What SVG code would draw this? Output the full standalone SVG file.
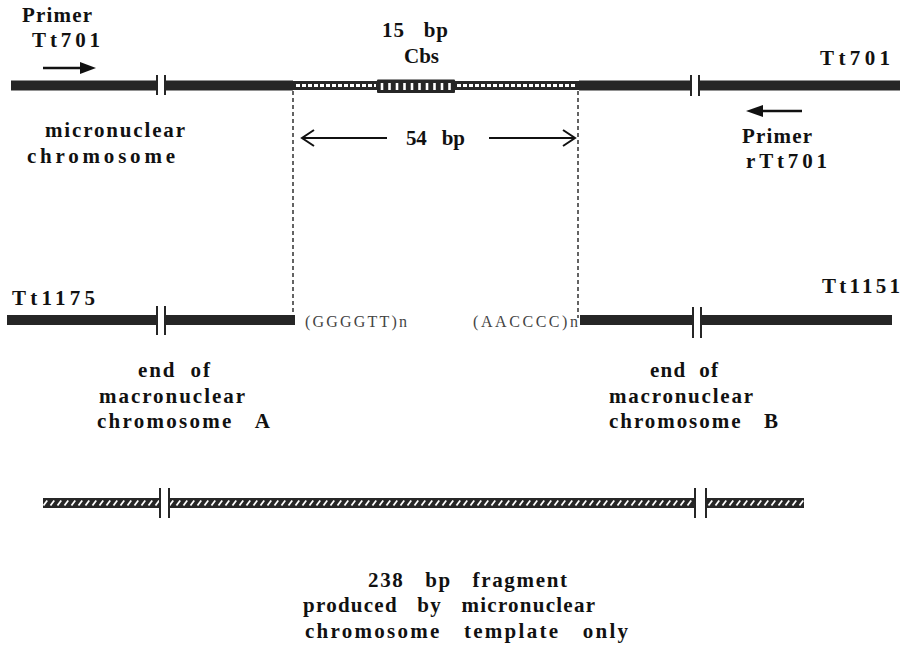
<svg xmlns="http://www.w3.org/2000/svg" width="904" height="648" viewBox="0 0 904 648">
<style>
  .lbl{font-family:"Liberation Serif","Times New Roman",serif;font-weight:bold;font-size:21px;fill:#111;}
  .seq{font-family:"Liberation Serif","Times New Roman",serif;font-size:16px;fill:#444;}
  .bar{fill:#262626;}
  .tick{stroke:#262626;stroke-width:2;}
  .dash{stroke:#222;stroke-width:1.4;stroke-dasharray:4 3;fill:none;}
  .open{stroke:#111;stroke-width:2;fill:none;}
  .prim{stroke:#111;stroke-width:2.5;}
</style>
<defs>
  <pattern id="hatch" patternUnits="userSpaceOnUse" x="0" y="498" width="7" height="10">
    <rect width="7" height="10" fill="#262626"/>
    <line x1="1.5" y1="7.5" x2="5.2" y2="2.5" stroke="#fff" stroke-width="1.8"/>
  </pattern>
</defs>

<rect width="904" height="648" fill="#fff"/>

<!-- micronuclear chromosome (top) -->
<g id="micronuclear-chromosome">
  <rect class="bar" x="11" y="80.5" width="146" height="10"/>
  <rect class="bar" x="165" y="80.5" width="128" height="10"/>
  <line class="tick" x1="157" y1="75" x2="157" y2="95"/>
  <line class="tick" x1="165" y1="75" x2="165" y2="95"/>
  <rect class="bar" x="293" y="81" width="85" height="9"/>
  <line x1="296" y1="85.5" x2="376" y2="85.5" stroke="#fff" stroke-width="3" stroke-dasharray="4 2"/>
  <rect class="bar" x="455" y="81" width="124" height="9"/>
  <line x1="457" y1="85.5" x2="576" y2="85.5" stroke="#fff" stroke-width="3" stroke-dasharray="4 2"/>
  <rect class="bar" x="377" y="79.5" width="78" height="13.5" rx="1"/>
  <g stroke="#fff" stroke-width="2.6">
    <line x1="382" y1="83" x2="382" y2="90"/>
    <line x1="389.5" y1="83" x2="389.5" y2="90"/>
    <line x1="397" y1="83" x2="397" y2="90"/>
    <line x1="404.5" y1="83" x2="404.5" y2="90"/>
    <line x1="412" y1="83" x2="412" y2="90"/>
    <line x1="419.5" y1="83" x2="419.5" y2="90"/>
    <line x1="427" y1="83" x2="427" y2="90"/>
    <line x1="434.5" y1="83" x2="434.5" y2="90"/>
    <line x1="442" y1="83" x2="442" y2="90"/>
    <line x1="449.5" y1="83" x2="449.5" y2="90"/>
  </g>
  <rect class="bar" x="579" y="80.5" width="111" height="10"/>
  <rect class="bar" x="700" y="80.5" width="200" height="10"/>
  <line class="tick" x1="691" y1="75" x2="691" y2="96"/>
  <line class="tick" x1="699" y1="75" x2="699" y2="96"/>
  <text class="lbl" x="45" y="137" textLength="140" lengthAdjust="spacing">micronuclear</text>
  <text class="lbl" x="27" y="163" textLength="148" lengthAdjust="spacing">chromosome</text>
</g>

<g id="cbs-label">
  <text class="lbl" x="382" y="37" textLength="66" lengthAdjust="spacing" xml:space="preserve">15   bp</text>
  <text class="lbl" x="404" y="63" textLength="35" lengthAdjust="spacing">Cbs</text>
</g>

<g id="primer-Tt701">
  <text class="lbl" x="22" y="22" textLength="70" lengthAdjust="spacing">Primer</text>
  <text class="lbl" x="32" y="47" textLength="68" lengthAdjust="spacing">Tt701</text>
</g>

<g id="label-Tt701-right">
  <text class="lbl" x="820" y="65" textLength="70" lengthAdjust="spacing">Tt701</text>
</g>

<g id="primer-rTt701">
  <text class="lbl" x="742" y="143" textLength="70" lengthAdjust="spacing">Primer</text>
  <text class="lbl" x="746" y="168" textLength="81" lengthAdjust="spacing">rTt701</text>
</g>

<!-- macronuclear chromosome A -->
<g id="macronuclear-A">
  <rect class="bar" x="7" y="315" width="150" height="10"/>
  <rect class="bar" x="165" y="315" width="130" height="10"/>
  <line class="tick" x1="157" y1="306" x2="157" y2="335"/>
  <line class="tick" x1="165" y1="306" x2="165" y2="335"/>
  <text class="lbl" x="12" y="305" textLength="83" lengthAdjust="spacing">Tt1175</text>
  <text class="seq" x="305" y="327" textLength="102" lengthAdjust="spacing">(GGGGTT)n</text>
  <text class="lbl" x="138" y="377" textLength="72" lengthAdjust="spacing" xml:space="preserve">end  of</text>
  <text class="lbl" x="99" y="403" textLength="146" lengthAdjust="spacing">macronuclear</text>
  <text class="lbl" x="97" y="428" textLength="173" lengthAdjust="spacing" xml:space="preserve">chromosome   A</text>
</g>

<!-- macronuclear chromosome B -->
<g id="macronuclear-B">
  <rect class="bar" x="580" y="315" width="113" height="10"/>
  <rect class="bar" x="701" y="315" width="191" height="10"/>
  <line class="tick" x1="693" y1="307" x2="693" y2="338"/>
  <line class="tick" x1="701" y1="307" x2="701" y2="338"/>
  <text class="lbl" x="822" y="293" textLength="78" lengthAdjust="spacing">Tt1151</text>
  <text class="seq" x="473" y="327" textLength="105" lengthAdjust="spacing">(AACCCC)n</text>
  <text class="lbl" x="650" y="377" textLength="68" lengthAdjust="spacing" xml:space="preserve">end  of</text>
  <text class="lbl" x="609" y="403" textLength="144" lengthAdjust="spacing">macronuclear</text>
  <text class="lbl" x="609" y="428" textLength="169" lengthAdjust="spacing" xml:space="preserve">chromosome   B</text>
</g>

<!-- 238 bp fragment -->
<g id="fragment-238bp">
  <rect x="43" y="498" width="116" height="10" fill="url(#hatch)"/>
  <rect x="169" y="498" width="525" height="10" fill="url(#hatch)"/>
  <rect x="706" y="498" width="98" height="10" fill="url(#hatch)"/>
  <line class="tick" x1="160" y1="488" x2="160" y2="518"/>
  <line class="tick" x1="169" y1="488" x2="169" y2="518"/>
  <line class="tick" x1="695" y1="488" x2="695" y2="518"/>
  <line class="tick" x1="706" y1="488" x2="706" y2="518"/>
  <text class="lbl" x="368" y="587" textLength="199" lengthAdjust="spacing" xml:space="preserve">238   bp   fragment</text>
  <text class="lbl" x="303" y="612" textLength="292" lengthAdjust="spacing" xml:space="preserve">produced   by   micronuclear</text>
  <text class="lbl" x="305" y="638" textLength="323" lengthAdjust="spacing" xml:space="preserve">chromosome   template   only</text>
</g>

<!-- connectors -->
<g id="connectors">
  <line class="dash" x1="293" y1="91" x2="293" y2="318"/>
  <line class="dash" x1="578" y1="91" x2="578" y2="318"/>
  <line class="open" x1="302" y1="138" x2="387" y2="138"/>
  <polyline class="open" points="314,130 302,138 314,146"/>
  <line class="open" x1="489" y1="138" x2="575" y2="138"/>
  <polyline class="open" points="563,130 575,138 563,146"/>
  <text class="lbl" x="406" y="145" textLength="59" lengthAdjust="spacing" xml:space="preserve">54   bp</text>
  <line class="prim" x1="43" y1="68" x2="86" y2="68"/>
  <path d="M80,62 L96,68 L80,74 Z" fill="#111"/>
  <line class="prim" x1="760" y1="111" x2="802" y2="111"/>
  <path d="M763,105 L746,111 L763,117 Z" fill="#111"/>
</g>
</svg>
